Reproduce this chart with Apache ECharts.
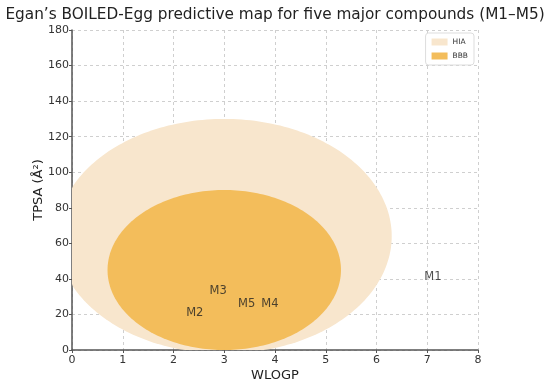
<!DOCTYPE html>
<html><head><meta charset="utf-8">
<script src="https://cdn.jsdelivr.net/npm/echarts@6/dist/echarts.min.js"></script>
<style>html,body{margin:0;padding:0;background:#fff}#c{width:550px;height:385px}</style>
</head><body><div id="c"></div>
<script>
// Ellipse regions: [centerX (WLOGP), centerY (TPSA), radiusX, radiusY]
const regionNames = ['HIA', 'BBB'];
const regionColors = ['#f8e6cd', '#f3bd5b'];
const hiaEllipse = [3.0, 64, 3.3, 66];
const bbbEllipse = [3.0, 45, 2.3, 45];
// Compounds
const compoundNames = ['M1', 'M2', 'M3', 'M4', 'M5'];
const compoundWlogp = [7.11, 2.42, 2.88, 3.90, 3.44];
const compoundTpsa = [41, 21, 33.4, 25.7, 25.7];
const xTicks = [0, 1, 2, 3, 4, 5, 6, 7, 8];
const yTicks = [0, 20, 40, 60, 80, 100, 120, 140, 160, 180];

const FONT = 'DejaVu Sans';
const chart = echarts.init(document.getElementById('c'));

function ellipseSeries(name, color, e) {
  return {
    type: 'custom', name: name,
    itemStyle: { color: color },
    data: [e],
    renderItem: function (params, api) {
      const cx = api.value(0), cy = api.value(1), rx = api.value(2), ry = api.value(3);
      const pts = [];
      for (let i = 0; i < 240; i++) {
        const t = i / 240 * Math.PI * 2;
        pts.push(api.coord([cx + rx * Math.cos(t), cy + ry * Math.sin(t)]));
      }
      const cs = params.coordSys;
      const clipped = echarts.graphic.clipPointsByRect(pts, { x: cs.x, y: cs.y, width: cs.width, height: cs.height });
      return { type: 'polygon', shape: { points: clipped }, style: { fill: color } };
    },
    silent: true, z: 1
  };
}

chart.setOption({
  animation: false,
  title: {
    text: 'Egan’s BOILED-Egg predictive map for five major compounds (M1–M5)',
    left: 'center', top: 3,
    textStyle: { fontFamily: FONT, fontSize: 15.3, fontWeight: 'normal', color: '#222' }
  },
  legend: {
    data: regionNames,
    right: 76, top: 33, orient: 'vertical',
    itemWidth: 16, itemHeight: 7, itemGap: 6,
    icon: 'rect',
    backgroundColor: '#fff', borderColor: '#ddd', borderWidth: 1, borderRadius: 3,
    padding: [5, 6, 5, 6],
    textStyle: { fontFamily: FONT, fontSize: 7.5, color: '#333' }
  },
  grid: { left: 72, right: 72, top: 30, bottom: 35, containLabel: false, outerBoundsMode: 'none' },
  xAxis: {
    type: 'value', min: 0, max: 8, interval: 1,
    name: 'WLOGP', nameLocation: 'middle', nameGap: 19, nameMoveOverlap: false,
    nameTextStyle: { fontFamily: FONT, fontSize: 13, color: '#222' },
    axisLine: { lineStyle: { color: '#555', width: 1.5 } },
    axisTick: { show: true, length: 3, lineStyle: { color: '#555' } },
    axisLabel: { fontFamily: FONT, fontSize: 11, color: '#333', margin: 5 },
    splitLine: { show: true, lineStyle: { color: '#cfcfcf', type: [3, 3], width: 1 } }
  },
  yAxis: {
    type: 'value', min: 0, max: 180, interval: 20,
    name: 'TPSA (Å²)', nameLocation: 'middle', nameGap: 27, nameRotate: 90, nameMoveOverlap: false,
    nameTextStyle: { fontFamily: FONT, fontSize: 13, color: '#222' },
    axisLine: { show: true, lineStyle: { color: '#555', width: 1.5 } },
    axisTick: { show: true, length: 3, lineStyle: { color: '#555' } },
    axisLabel: { fontFamily: FONT, fontSize: 11, color: '#333', margin: 3 },
    splitLine: { show: true, lineStyle: { color: '#cfcfcf', type: [3, 3], width: 1 } }
  },
  series: [
    ellipseSeries(regionNames[0], regionColors[0], hiaEllipse),
    ellipseSeries(regionNames[1], regionColors[1], bbbEllipse),
    {
      type: 'scatter', name: 'compounds',
      data: compoundNames.map((n, i) => [compoundWlogp[i], compoundTpsa[i], n]),
      symbolSize: 0, z: 5,
      label: {
        show: true, position: 'inside', formatter: p => p.data[2],
        fontFamily: FONT, fontSize: 11.5, color: '#222'
      }
    }
  ]
});
</script></body></html>
